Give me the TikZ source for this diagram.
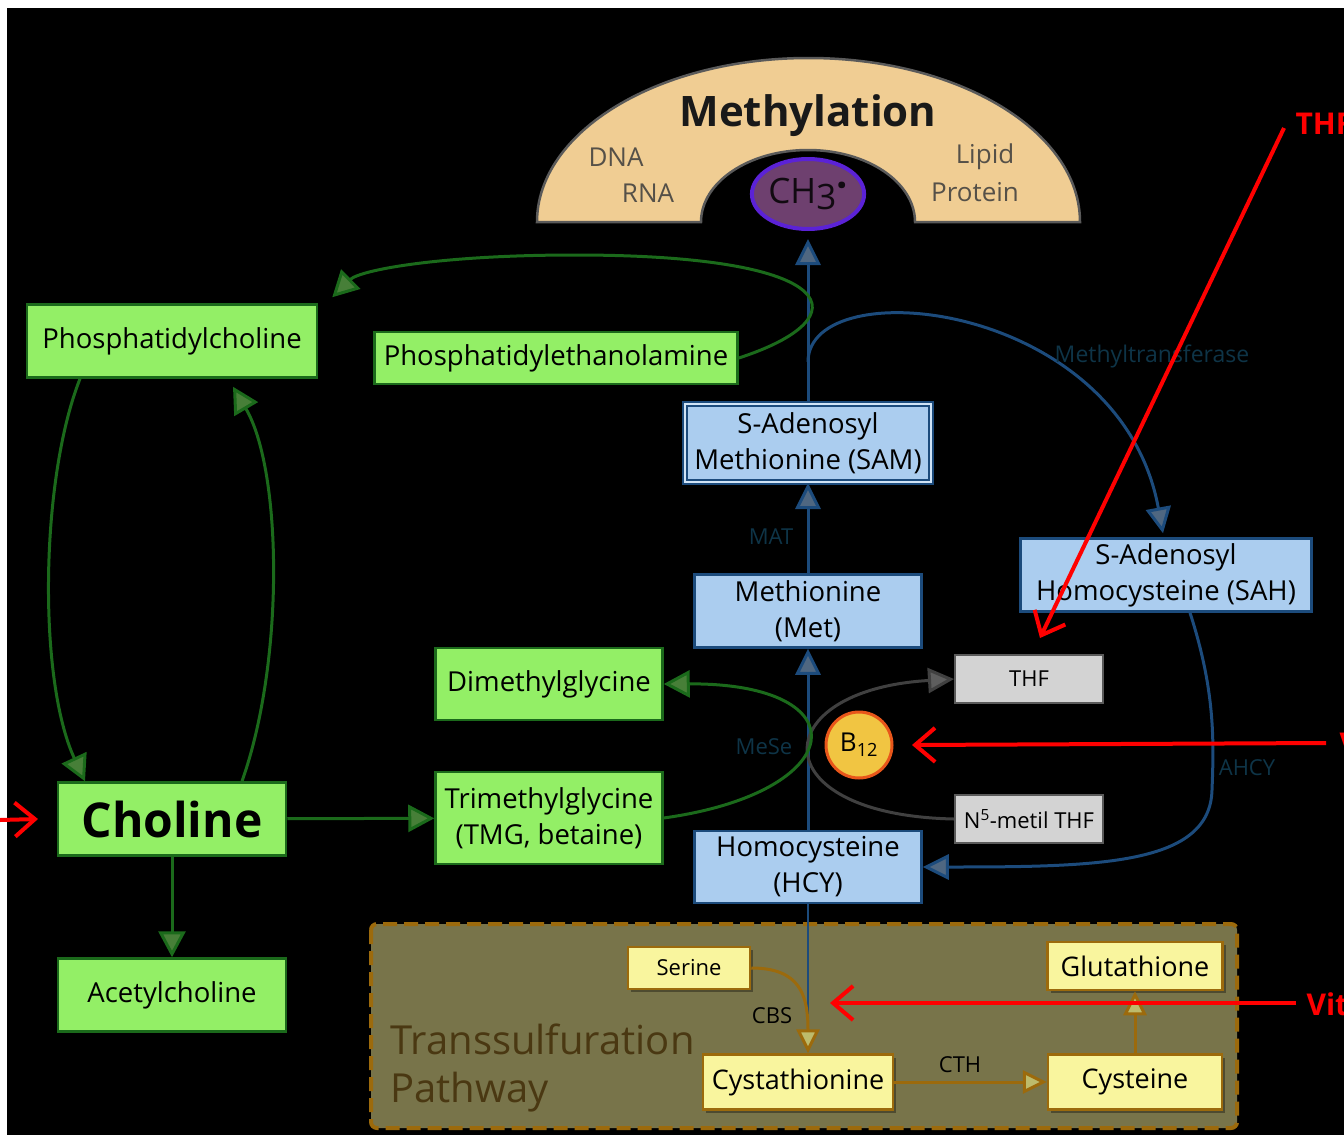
\documentclass[tikz,border=0pt]{standalone}
\usepackage{fontspec}
\setmainfont{Open Sans}
\usetikzlibrary{arrows.meta,shapes.geometric,shadows}

\newcommand{\fsz}[2]{\fontsize{#1pt}{#2pt}\selectfont}

\definecolor{archFill}{HTML}{F0CD93}
\definecolor{archLine}{HTML}{5A5A5A}
\definecolor{archText}{HTML}{555048}
\definecolor{chFill}{HTML}{6E406F}
\definecolor{chLine}{HTML}{5B22D6}
\definecolor{metBlue}{HTML}{1C4B7C}
\definecolor{metFill}{HTML}{ABCDEF}
\definecolor{metTip}{HTML}{4F6781}
\definecolor{enzText}{HTML}{0E3447}
\definecolor{pcGreen}{HTML}{1B6A1B}
\definecolor{pcFill}{HTML}{93EF66}
\definecolor{pcTip}{HTML}{477F38}
\definecolor{folGray}{HTML}{404040}
\definecolor{folFill}{HTML}{D3D3D3}
\definecolor{folTip}{HTML}{5E5E5E}
\definecolor{bFill}{HTML}{F1C542}
\definecolor{bLine}{HTML}{E8561A}
\definecolor{tsOlive}{HTML}{78744A}
\definecolor{tsBrown}{HTML}{9C6A0C}
\definecolor{tsYellow}{HTML}{F9F59E}
\definecolor{tsTip}{HTML}{BDBB6C}
\definecolor{tsText}{HTML}{4A3812}

\begin{document}
\begin{tikzpicture}[x=1pt, y=-1pt,
    box/.style={draw, line width=2.5pt, align=center, inner sep=0pt, font=\fsz{27.5}{36}},
    greenbox/.style={box, draw=pcGreen, fill=pcFill},
    bluebox/.style={box, draw=metBlue, fill=metFill},
    graybox/.style={box, draw=archLine, fill=folFill, line width=2pt, minimum width=148pt, minimum height=48pt, font=\fsz{22}{26}},
    tsbox/.style={box, draw=tsBrown, fill=tsYellow, line width=2.5pt, font=\fsz{25}{30},
        drop shadow={shadow xshift=3pt, shadow yshift=-3pt, fill=black, opacity=.35}},
    enz/.style={text=enzText, font=\fsz{22}{26}},
    archtext/.style={text=archText, font=\fsz{26}{30}},
    metarrow/.style={draw=metBlue, line width=3pt, -{Triangle[length=26pt, width=25pt, fill=metTip]}},
    pcarrow/.style={draw=pcGreen, line width=3pt, -{Triangle[length=26pt, width=27pt, fill=pcTip]}},
    folarrow/.style={draw=folGray, line width=3pt, -{Triangle[length=26pt, width=25pt, fill=folTip]}},
    tsarrow/.style={draw=tsBrown, line width=3pt, -{Triangle[length=24pt, width=23pt, fill=tsTip]}},
    redarrow/.style={draw=red, line width=4pt, -{Straight Barb[length=20pt, width=34pt]}},
    redtext/.style={text=red, font=\bfseries\fsz{30}{36}, anchor=west}
]

% page and background
\fill[white] (0,0) rectangle (1344,1135);
\fill[black] (7,8) rectangle (1344,1135);
\useasboundingbox (0,0) rectangle (1344,1135);

% methylation arch
\draw[draw=archLine, fill=archFill, line width=2.5pt]
    (537,222) arc[start angle=180, end angle=0, x radius=271.5pt, y radius=164pt]
    -- (915,222) arc[start angle=0, end angle=180, x radius=107pt, y radius=72pt] -- cycle;
\node[font=\bfseries\fsz{42}{48}, text=black!90] (methyl) at (808,116) {Methylation};
\node[archtext] (dna) at (616,157) {DNA};
\node[archtext] (rna) at (648,193) {RNA};
\node[archtext] (lipid) at (985,157) {Lipid};
\node[archtext] (protein) at (975,192) {Protein};
\node[ellipse, draw=chLine, fill=chFill, line width=4pt, minimum width=112pt, minimum height=70pt,
    inner sep=0pt, text=black!85!chFill, font=\fsz{35}{40}] (ch3) at (808,194)
    {CH\raisebox{-.3ex}{3}\raisebox{.25ex}{\fsz{40}{40}\textbf{·}}};

% methionine cycle
\node[bluebox, double=metFill!55!white, double distance=2.5pt, line width=2pt,
    minimum width=246pt, minimum height=78pt] (sam) at (808,443) {S-Adenosyl\\Methionine (SAM)};
\node[bluebox, minimum width=227pt, minimum height=73pt] (met) at (808,611) {Methionine\\(Met)};
\node[bluebox, minimum width=291pt, minimum height=73pt] (sah) at (1166,575) {S-Adenosyl\\Homocysteine (SAH)};
\node[bluebox, minimum width=227pt, minimum height=72pt] (hcy) at (808,867) {Homocysteine\\(HCY)};

% folate side
\node[graybox] (thf) at (1029,679) {THF};
\node[graybox] (n5thf) at (1029,819) {N\textsuperscript{5}-metil THF};
\node[circle, draw=bLine, fill=bFill, line width=3pt, minimum size=66pt, inner sep=0pt,
    font=\fsz{26}{30}] (b12) at (859,745) {B\textsubscript{12}};

% choline branch
\node[greenbox, minimum width=290pt, minimum height=73pt] (pc) at (172,341) {Phosphatidylcholine};
\node[greenbox, minimum width=363pt, minimum height=52pt] (pe) at (556,358) {Phosphatidylethanolamine};
\node[greenbox, minimum width=227pt, minimum height=72pt] (dmg) at (549,684) {Dimethylglycine};
\node[greenbox, minimum width=227pt, minimum height=92pt] (tmg) at (549,818) {Trimethylglycine\\(TMG, betaine)};
\node[greenbox, minimum width=228pt, minimum height=73pt, font=\bfseries\fsz{48}{56}] (choline) at (172,819) {Choline};
\node[greenbox, minimum width=228pt, minimum height=73pt] (acetyl) at (172,995) {Acetylcholine};

% transsulfuration pathway
\draw[draw=tsBrown, fill=tsOlive, line width=4pt, dash pattern=on 14pt off 7pt, rounded corners=6pt]
    (371,924) rectangle (1237,1128);
\node[anchor=north west, align=left, text=tsText, font=\fsz{40}{48}] (tslabel) at (387,1020)
    {Transsulfuration\\Pathway};
\node[tsbox, minimum width=122pt, minimum height=42pt, font=\fsz{22}{26}] (serine) at (689,968) {Serine};
\node[tsbox, minimum width=175pt, minimum height=48pt, font=\fsz{27}{30}] (gsh) at (1135,966) {Glutathione};
\node[tsbox, minimum width=190pt, minimum height=55pt, font=\fsz{27}{30}] (cysta) at (798,1082) {Cystathionine};
\node[tsbox, minimum width=174pt, minimum height=55pt, font=\fsz{27}{30}] (cys) at (1135,1082) {Cysteine};
\node[font=\fsz{22}{26}] (cbs) at (772,1016) {CBS};
\node[font=\fsz{22}{26}] (cth) at (960,1065) {CTH};

% arrows (methionine cycle)
\coordinate (mtStart) at (808,362);
\coordinate (hcyEnd) at (808,1030);
\draw[metarrow, shorten >=8pt] (sam) -- (ch3);
\draw[metarrow] (met) -- (sam);
\draw[metarrow] (hcy) -- (met);
\draw[metarrow] (mtStart) .. controls (808,270) and (1120,300) .. ([xshift=-3pt,yshift=4pt]sah.north);
\draw[metarrow] ([xshift=24pt]sah.south) .. controls (1215,690) and (1214,740) .. (1212,790)
    .. controls (1210,865) and (1100,867) .. (hcy.east);
\draw[draw=metBlue, line width=2.5pt] (hcy.south) -- (hcyEnd);
\node[enz] (mat) at (771,537) {MAT};
\node[enz] (mese) at (764,747) {MeSe};
\node[enz, font=\fsz{23}{26}] (mtase) at (1152,356) {Methyltransferase};
\node[enz] (ahcy) at (1247,768) {AHCY};

% arrows (folate)
\draw[folarrow] (n5thf.west) .. controls (760,815) and (765,690) .. (thf.west);

% arrows (choline branch)
\draw[pcarrow] (pe.east) .. controls (862,318) and (845,255) .. (575,255)
    .. controls (440,255) and (360,270) .. ([xshift=14pt,yshift=6pt]pc.north east);
\draw[pcarrow] ([xshift=-92pt]pc.south) .. controls (40,480) and (38,680) .. ([xshift=-87pt]choline.north);
\draw[pcarrow] ([xshift=70pt]choline.north) .. controls (285,660) and (282,470) .. ([xshift=61pt,yshift=-8pt]pc.south);
\draw[pcarrow] (tmg.east) .. controls (850,792) and (862,683) .. (dmg.east);
\draw[pcarrow] (choline) -- (tmg);
\draw[pcarrow] (choline) -- (acetyl);

% arrows (transsulfuration)
\draw[tsarrow] (serine.east) .. controls (800,968) and (808,995) .. ([xshift=10pt]cysta.north);
\draw[tsarrow] (cysta) -- (cys);
\draw[tsarrow] (cys) -- (gsh);

% red markers
\node[redtext] (thfred) at (1292,124) {THF};
\node[redtext] (vitb12) at (1336,744) {V};
\node[redtext] (vitb6) at (1303,1004) {Vit};
\coordinate (leftIn) at (0,820);
\coordinate (thfIn) at (1284,128);
\coordinate (b12In) at (1326,743);
\coordinate (b6In) at (1296,1003);
\draw[redarrow] (leftIn) -- (choline.west -| 38,0);
\draw[redarrow] (thfIn) -- (1040,638);
\draw[redarrow] (b12In) -- (b12.east -| 912,0);
\draw[redarrow] (b6In) -- (830,1003);

\end{tikzpicture}
\end{document}
